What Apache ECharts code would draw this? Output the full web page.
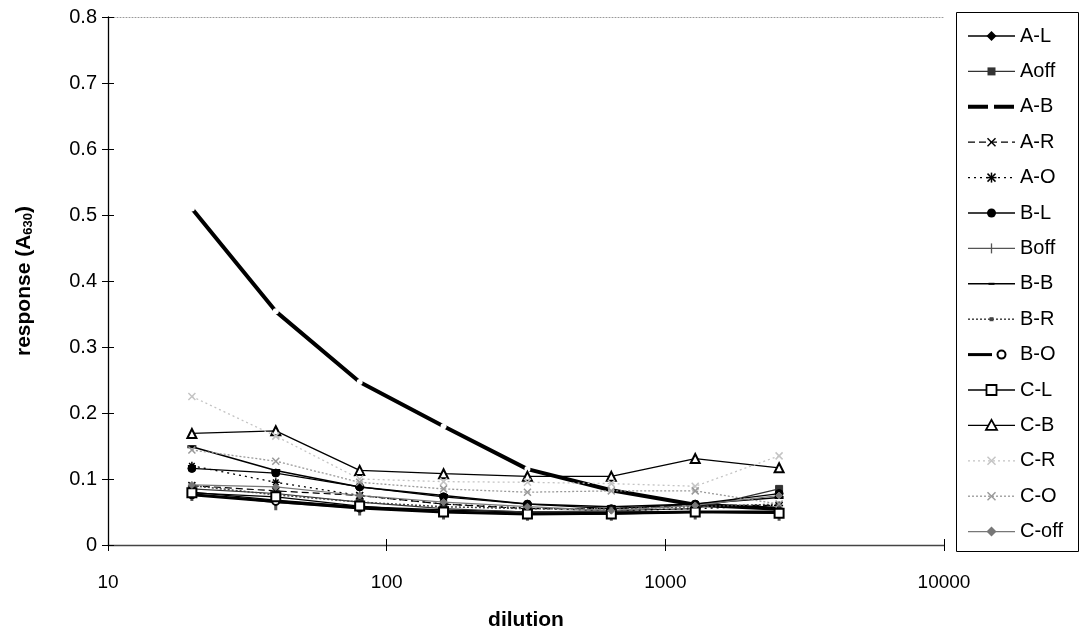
<!DOCTYPE html>
<html>
<head>
<meta charset="utf-8">
<script src="https://cdn.jsdelivr.net/npm/echarts@6/dist/echarts.min.js"></script>
<style>
  html, body { margin: 0; padding: 0; background: #fff; }
  #chart { width: 1085px; height: 634px; }
</style>
</head>
<body>
<div id="chart"></div>
<script>
// ---- data ----
var dilutions = [20, 40, 80, 160, 320, 640, 1280, 2560];
var xTicks = [10, 100, 1000, 10000];
var yTicks = [0, 0.1, 0.2, 0.3, 0.4, 0.5, 0.6, 0.7, 0.8];

var seriesNames = ['A-L', 'Aoff', 'A-B', 'A-R', 'A-O', 'B-L', 'Boff', 'B-B', 'B-R', 'B-O', 'C-L', 'C-B', 'C-R', 'C-O', 'C-off'];

var AL   = [0.080, 0.068, 0.058, 0.053, 0.050, 0.050, 0.050, 0.050];
var Aoff = [0.085, 0.078, 0.065, 0.055, 0.050, 0.052, 0.055, 0.085];
var AB   = [0.510, 0.354, 0.247, 0.180, 0.115, 0.083, 0.061, 0.055];
var AR   = [0.090, 0.082, 0.075, 0.062, 0.055, 0.055, 0.060, 0.060];
var AO   = [0.120, 0.095, 0.075, 0.062, 0.056, 0.052, 0.055, 0.060];
var BL   = [0.116, 0.109, 0.088, 0.073, 0.062, 0.055, 0.062, 0.078];
var Boff = [0.078, 0.064, 0.056, 0.050, 0.048, 0.048, 0.050, 0.048];
var BB   = [0.149, 0.113, 0.088, 0.075, 0.062, 0.058, 0.062, 0.072];
var BR   = [0.090, 0.076, 0.065, 0.058, 0.055, 0.055, 0.058, 0.062];
var BO   = [0.076, 0.066, 0.056, 0.050, 0.047, 0.048, 0.050, 0.050];
var CL   = [0.079, 0.073, 0.059, 0.050, 0.047, 0.047, 0.050, 0.048];
var CB   = [0.169, 0.173, 0.113, 0.108, 0.104, 0.104, 0.131, 0.117];
var CR   = [0.225, 0.165, 0.100, 0.096, 0.095, 0.093, 0.089, 0.135];
var CO   = [0.144, 0.127, 0.095, 0.085, 0.080, 0.082, 0.082, 0.062];
var Coff = [0.091, 0.088, 0.075, 0.065, 0.058, 0.052, 0.060, 0.075];

var seriesValues = [AL, Aoff, AB, AR, AO, BL, Boff, BB, BR, BO, CL, CB, CR, CO, Coff];

// ---- styles ----
var XSYM = 'path://M0,0L10,10M10,0L0,10';
var STAR = 'path://M5,0L5,10M0,5L10,5M1.5,1.5L8.5,8.5M8.5,1.5L1.5,8.5';
var VBAR = 'path://M4.2,0L5.8,0L5.8,10L4.2,10Z';
var HBAR = 'path://M0,4.2L10,4.2L10,5.8L0,5.8Z';

// m: legend marker kind
var styles = [
  {c: '#000', w: 1.3, t: 'solid', s: 'diamond', ss: 8, m: 'diamond'},
  {c: '#333', w: 1.2, t: 'solid', s: 'rect', ss: 7, m: 'rect'},
  {c: '#000', w: 4, t: 'solid', s: 'circle', ss: 6, m: 'none', lt: [20, 6], gap: true},
  {c: '#000', w: 1.2, t: [7, 4], s: XSYM, ss: 7, stroke: true, m: 'x'},
  {c: '#000', w: 1.3, t: [2, 4], s: STAR, ss: 8, stroke: true, m: 'star'},
  {c: '#000', w: 1.3, t: 'solid', s: 'circle', ss: 8, m: 'circle'},
  {c: '#555', w: 1.2, t: 'solid', s: VBAR, ss: [2, 10], m: 'vbar'},
  {c: '#000', w: 1.5, t: 'solid', s: HBAR, ss: [6, 2], m: 'hbar'},
  {c: '#444', w: 1.5, t: [2, 2], s: 'rect', ss: 3, m: 'smallrect'},
  {c: '#000', w: 3, t: 'solid', s: 'emptyCircle', ss: 7, m: 'ecircle'},
  {c: '#000', w: 1.3, t: 'solid', s: 'emptyRect', ss: 9, m: 'erect'},
  {c: '#000', w: 1.3, t: 'solid', s: 'emptyTriangle', ss: 9, m: 'etri'},
  {c: '#c4c4c4', w: 1.3, t: [2, 3], s: XSYM, ss: 7, stroke: true, m: 'x'},
  {c: '#999', w: 1.3, t: [2, 2], s: XSYM, ss: 7, stroke: true, m: 'x'},
  {c: '#777', w: 1.2, t: 'solid', s: 'diamond', ss: 7, m: 'diamond'}
];

var series = seriesNames.map(function (name, i) {
  var st = styles[i];
  var item = st.stroke
    ? {color: '#fff', borderColor: st.c, borderWidth: 1.5}
    : {color: st.c, borderColor: st.c, borderWidth: 1};
  if (!st.stroke && st.s.indexOf('empty') === 0) { item = {color: st.c, borderColor: st.c, borderWidth: 1.6}; }
  if (st.gap) { item = {color: '#fff', borderWidth: 0}; }
  return {
    name: name,
    type: 'line',
    data: dilutions.map(function (d, k) { return [d, seriesValues[i][k]]; }),
    symbol: st.s,
    symbolSize: st.ss,
    showSymbol: true,
    lineStyle: {color: st.c, width: st.w, type: st.t},
    itemStyle: item,
    emphasis: {disabled: true},
    animation: false,
    z: st.gap ? 2 : 3
  };
});

// ---- legend (drawn as graphics) ----
var LEG = {x: 956.5, y: 12.5, w: 122, h: 539, row0: 36, rowGap: 35.4, lx0: 968, lx1: 1015, tx: 1020};
function legendMarker(st, cx, cy) {
  var c = st.c, out = [];
  function ln(x1, y1, x2, y2, w) { out.push({type: 'line', shape: {x1: x1, y1: y1, x2: x2, y2: y2}, style: {stroke: c, lineWidth: w || 1.5}, z: 20}); }
  switch (st.m) {
    case 'diamond': out.push({type: 'polygon', shape: {points: [[cx, cy - 5], [cx + 5, cy], [cx, cy + 5], [cx - 5, cy]]}, style: {fill: c}, z: 20}); break;
    case 'rect': out.push({type: 'rect', shape: {x: cx - 4, y: cy - 4, width: 8, height: 8}, style: {fill: c}, z: 20}); break;
    case 'smallrect': out.push({type: 'rect', shape: {x: cx - 2, y: cy - 2, width: 4, height: 4}, style: {fill: c}, z: 20}); break;
    case 'circle': out.push({type: 'circle', shape: {cx: cx, cy: cy, r: 4.5}, style: {fill: c}, z: 20}); break;
    case 'ecircle': out.push({type: 'circle', shape: {cx: cx + 10, cy: cy, r: 4}, style: {fill: '#fff', stroke: c, lineWidth: 2}, z: 20}); break;
    case 'erect': out.push({type: 'rect', shape: {x: cx - 5, y: cy - 5, width: 10, height: 10}, style: {fill: '#fff', stroke: c, lineWidth: 1.8}, z: 20}); break;
    case 'etri': out.push({type: 'polygon', shape: {points: [[cx, cy - 5.5], [cx + 5.5, cy + 4.5], [cx - 5.5, cy + 4.5]]}, style: {fill: '#fff', stroke: c, lineWidth: 1.8}, z: 20}); break;
    case 'x': ln(cx - 4, cy - 4, cx + 4, cy + 4); ln(cx - 4, cy + 4, cx + 4, cy - 4); break;
    case 'star': ln(cx - 4, cy - 4, cx + 4, cy + 4); ln(cx - 4, cy + 4, cx + 4, cy - 4); ln(cx, cy - 5, cx, cy + 5); ln(cx - 5, cy, cx + 5, cy); break;
    case 'vbar': ln(cx, cy - 5, cx, cy + 5, 1.3); break;
    case 'hbar': ln(cx - 3, cy, cx + 3, cy, 2); break;
  }
  return out;
}
var FONT = '"Liberation Sans", Arial, Helvetica, sans-serif';
var graphics = [{type: 'rect', shape: {x: LEG.x, y: LEG.y, width: LEG.w, height: LEG.h},
  style: {fill: '#fff', stroke: '#000', lineWidth: 1}, z: 10, silent: true}];
seriesNames.forEach(function (name, i) {
  var st = styles[i];
  var cy = LEG.row0 + LEG.rowGap * i;
  var dash = st.lt || (st.t === 'solid' ? null : st.t);
  var lineEnd = st.m === 'ecircle' ? LEG.lx0 + 24 : LEG.lx1;
  graphics.push({type: 'line', shape: {x1: LEG.lx0, y1: cy, x2: lineEnd, y2: cy},
    style: {stroke: st.c, lineWidth: st.w, lineDash: dash}, z: 15, silent: true});
  legendMarker(st, (LEG.lx0 + LEG.lx1) / 2, cy).forEach(function (g) { g.silent = true; graphics.push(g); });
  graphics.push({type: 'text', x: LEG.tx, y: cy, style: {text: name, fill: '#000', font: '20px ' + FONT, textVerticalAlign: 'middle', verticalAlign: 'middle'}, z: 20, silent: true});
});

var chart = echarts.init(document.getElementById('chart'), null, {renderer: 'canvas'});

chart.setOption({
  backgroundColor: '#fff',
  animation: false,
  textStyle: {fontFamily: FONT},
  grid: {left: 108, right: 1085 - 944, top: 17, bottom: 634 - 545, containLabel: false, outerBoundsMode: 'none'},
  graphic: graphics,
  xAxis: [
    {
      type: 'log', logBase: 10, min: xTicks[0], max: xTicks[xTicks.length - 1],
      name: 'dilution', nameLocation: 'middle', nameGap: 65,
      nameTextStyle: {fontFamily: FONT, fontSize: 21, fontWeight: 'bold', color: '#000'},
      axisLine: {show: true, lineStyle: {color: '#444', width: 1.3}},
      axisTick: {show: true, length: 6, inside: false, lineStyle: {color: '#000'}},
      minorTick: {show: false},
      axisLabel: {fontFamily: FONT, fontSize: 19, color: '#000', margin: 28,
        formatter: function (v) { return String(Math.round(v)); }},
      splitLine: {show: false}
    },
    {
      type: 'log', logBase: 10, min: xTicks[0], max: xTicks[xTicks.length - 1],
      position: 'bottom',
      axisLine: {show: false},
      axisTick: {show: true, length: 6, inside: true, lineStyle: {color: '#000'}},
      axisLabel: {show: false},
      splitLine: {show: false}
    },
    {
      type: 'log', logBase: 10, min: xTicks[0], max: xTicks[xTicks.length - 1],
      position: 'top',
      axisLine: {show: true, lineStyle: {color: '#999', width: 1, type: [1, 2]}},
      axisTick: {show: false},
      axisLabel: {show: false},
      splitLine: {show: false}
    }
  ],
  yAxis: [
    {
      type: 'value', min: yTicks[0], max: yTicks[yTicks.length - 1], interval: 0.1,
      name: 'response (A{sub|630})', nameLocation: 'middle', nameGap: 73, nameRotate: 90,
      nameTextStyle: {fontFamily: FONT, fontSize: 21, fontWeight: 'bold', color: '#000',
        rich: {sub: {fontFamily: FONT, fontSize: 13, fontWeight: 'bold', color: '#000', verticalAlign: 'bottom', padding: [9, 0, 0, 0]}}},
      axisLine: {show: true, lineStyle: {color: '#000', width: 1.3}},
      axisTick: {show: true, length: 6, inside: false, lineStyle: {color: '#000'}},
      axisLabel: {fontFamily: FONT, fontSize: 20, color: '#000', margin: 11,
        formatter: function (v) { return v === 0 ? '0' : v.toFixed(1); }},
      splitLine: {show: false}
    },
    {
      type: 'value', min: yTicks[0], max: yTicks[yTicks.length - 1], interval: 0.1,
      position: 'left',
      axisLine: {show: false},
      axisTick: {show: true, length: 6, inside: true, lineStyle: {color: '#000'}},
      axisLabel: {show: false},
      splitLine: {show: false}
    }
  ],
  series: series
});
</script>
</body>
</html>
